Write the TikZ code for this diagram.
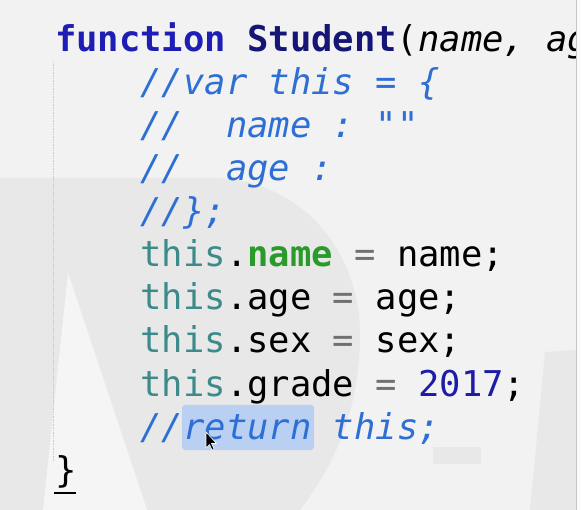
\documentclass[tikz,border=0pt]{standalone}
\usepackage{fontspec}
\newfontfamily\codefont{DejaVu Sans Mono}
\definecolor{bgc}{HTML}{F2F2F2}
\definecolor{wmdark}{HTML}{E8E8E8}
\definecolor{wmlight}{HTML}{F5F5F5}
\definecolor{cmt}{HTML}{2E6FD6}
\definecolor{thisc}{HTML}{3C8A8A}
\definecolor{fld}{HTML}{2A9A2A}
\definecolor{eqc}{HTML}{707070}
\definecolor{numc}{HTML}{1C1CA8}
\definecolor{kwc}{HTML}{1E1EB4}
\definecolor{clsc}{HTML}{151575}
\definecolor{hlc}{HTML}{B9D0F2}
\tikzset{
  codeline/.style={anchor=base west, inner sep=0pt, outer sep=0pt,
    font=\codefont\fontsize{35.5pt}{43pt}\selectfont\frenchspacing},
}
\newcommand{\kthis}{\textcolor{thisc}{this}}
\newcommand{\keq}{\textcolor{eqc}{=}}
\begin{document}
\begin{tikzpicture}[x=1pt,y=-1pt]
\useasboundingbox (0,0) rectangle (581,510);
% background
\fill[bgc] (0,0) rectangle (581,510);
% watermark
\fill[wmdark] (0,178) -- (215,178) .. controls (300,180) and (362,250) .. (360,340)
  .. controls (358,420) and (330,470) .. (300,510) -- (0,510) -- cycle;
\fill[wmlight] (68,273) -- (147,510) -- (43,510) -- cycle;
\fill[wmdark] (433,447) rectangle (481,464);
\fill[wmdark] (545,352) -- (576,350) -- (576,510) -- (530,510) -- cycle;
% indent guide
\draw[gray!40, densely dotted, line width=0.6pt] (53,62) -- (53,462);
% highlight
\fill[hlc, rounded corners=3pt] (182,405) rectangle (314,450);
% code
\node[codeline] (l1) at (55,52) {\textcolor{kwc}{\bfseries function} \textcolor{clsc}{\bfseries Student}(\itshape name, ag};
\node[codeline, text=cmt] (l2) at (140.6,95) {\itshape //var this = \{};
\node[codeline, text=cmt] (l3) at (140.6,138) {\itshape //\ \ name : ""};
\node[codeline, text=cmt] (l4) at (140.6,181) {\itshape //\ \ age :};
\node[codeline, text=cmt] (l5) at (140.6,224) {\itshape //\};};
\node[codeline] (l6) at (140.6,267) {\kthis.\textcolor{fld}{\bfseries name} \keq{} name;};
\node[codeline] (l7) at (140.6,310) {\kthis.age \keq{} age;};
\node[codeline] (l8) at (140.6,353) {\kthis.sex \keq{} sex;};
\node[codeline] (l9) at (140.6,396) {\kthis.grade \keq{} \textcolor{numc}{2017};};
\node[codeline, text=cmt] (l10) at (140.6,439) {\itshape //return this;};
\node[codeline] (l11) at (55,482) {\}};
% bracket match underline
\draw[black, line width=2pt] (l11.base west) ++(-1,11) -- ++(22,0);
% mouse cursor
\filldraw[black, draw=white, line width=0.6pt] (206,432) -- (206,448) -- (209.5,444.5) -- (212,450) -- (214,449) -- (211.5,443.5) -- (216.5,443.5) -- cycle;
% right edge strip
\fill[white!60!bgc] (576,0) rectangle (581,510);
\draw[gray!45, line width=0.8pt] (576,0) -- (576,510);
\end{tikzpicture}
\end{document}
